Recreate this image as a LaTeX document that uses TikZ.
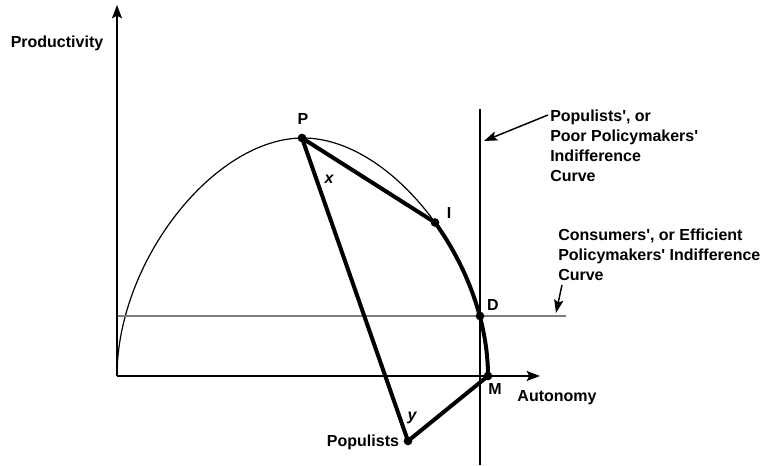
\documentclass[tikz,border=0pt]{standalone}
\usepackage{fontspec}
\setmainfont{Liberation Sans}
\usetikzlibrary{arrows.meta,positioning}
\definecolor{econInk}{HTML}{000000}
\definecolor{econGray}{HTML}{7F7F7F}
\newcommand{\aps}{\textquotesingle}
\tikzset{
  every picture/.style={font=\fontsize{12}{15}\selectfont\bfseries, text=econInk},
  econ axis/.style={-{Stealth[length=10pt,width=7.5pt,inset=2pt]},
    draw=econInk, line width=1.4pt},
  econ curve/.style={draw=econInk, line width=0.9pt},
  econ path/.style={draw=econInk, line width=3pt, line join=round},
  econ guide/.style={draw=econInk, line width=0.8pt},
  econ level/.style={draw=econGray, line width=1.1pt},
  econ pointer/.style={-{Stealth[length=10pt,width=7pt,inset=2pt]},
    draw=econInk, line width=1.1pt},
  econ dot/.style={circle, fill=econInk, inner sep=0pt, minimum size=6.5pt},
  econ label/.style={inner sep=0pt, align=left}
}
\begin{document}
\begin{tikzpicture}[x=0.75pt,y=0.75pt]
  \useasboundingbox (-117,-90) rectangle (652,376);
  \coordinate (O) at (0,0); \coordinate (yTip) at (0,371); \coordinate (xTip) at (423,0);
  \coordinate (vTop) at (363,267); \coordinate (vBot) at (363,-89);
  \coordinate (hLeft) at (0,60); \coordinate (hRight) at (449,60);
  % frontier and indifference curves
  \draw[econ curve] (O) .. controls (0,114.2) and (96.7,238) .. (186,238)
    .. controls (274.8,238) and (371,114.2) .. (371,0);
  \draw[econ guide] (vTop) -- (vBot);
  \draw[econ level] (hLeft) -- (hRight);
  \draw[econ axis] (O) -- (yTip);
  \draw[econ axis] (O) -- (xTip);
  \node[econ dot] (P) at (185,238) {}; \node[econ dot] (I) at (318,153.5) {};
  \node[econ dot] (D) at (363,60) {}; \node[econ dot] (M) at (371,0) {};
  \node[econ dot] (Pop) at (291,-65) {};
  \draw[econ path] (I.center) .. controls (349.8,109.5) and (371,53.7) .. (M.center);
  \draw[econ path] (I.center) -- (P.center) -- (Pop.center) -- (M.center);
  % labels
  \node[econ label] (prodLabel) at (-60,333) {Productivity};
  \node[econ label] (autoLabel) at (440,-22) {Autonomy};
  \node[econ label] at (186,257) {P}; \node[econ label] at (332,163) {I};
  \node[econ label] at (376,71) {D}; \node[econ label] at (378,-13) {M};
  \node[econ label] at (246,-66) {Populists};
  \node[econ label] at (212,197) {\itshape x}; \node[econ label] at (295,-42) {\itshape y};
  \node[econ label, anchor=north west] (popCurve) at (433,266)
    {Populists\aps, or\\Poor Policymakers\aps\\Indifference\\Curve};
  \node[econ label, anchor=north west] (conCurve) at (441,147.7)
    {Consumers\aps, or Efficient\\Policymakers\aps{} Indifference\\Curve};
  \coordinate (popTail) at (431,261); \coordinate (popHead) at (367,235);
  \coordinate (conTail) at (445,91); \coordinate (conHead) at (439,63);
  \draw[econ pointer] (popTail) -- (popHead);
  \draw[econ pointer] (conTail) -- (conHead);
\end{tikzpicture}
\end{document}
